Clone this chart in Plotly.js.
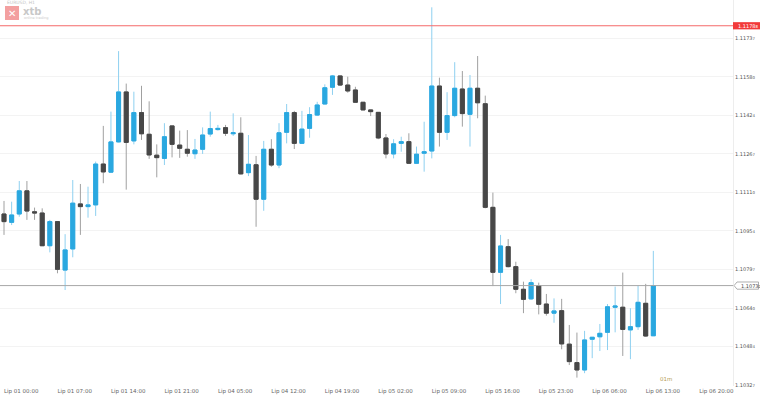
<!DOCTYPE html>
<html>
<head>
<meta charset="utf-8">
<script src="https://cdn.plot.ly/plotly-3.0.1.min.js"></script>
<style>html,body{margin:0;padding:0;background:#fff;}#chart{width:760px;height:395px;}</style>
</head>
<body>
<div id="chart"></div>
<script>
// ---- data (EURUSD hourly candles) ----
const openP  = [1.11023,1.10989,1.11023,1.11117,1.11032,1.11027,1.10894,1.10992,1.10795,1.10881,1.11064,1.11053,1.11060,1.11226,1.11193,1.11316,1.11519,1.11320,1.11435,1.11347,1.11262,1.11249,1.11381,1.11303,1.11286,1.11268,1.11286,1.11348,1.11366,1.11374,1.11349,1.11351,1.11191,1.11223,1.11083,1.11286,1.11222,1.11355,1.11435,1.11310,1.11371,1.11425,1.11470,1.11538,1.11584,1.11547,1.11527,1.11477,1.11446,1.11436,1.11332,1.11267,1.11310,1.11317,1.11229,1.11270,1.11279,1.11543,1.11355,1.11423,1.11531,1.11428,1.11534,1.11471,1.11050,1.10786,1.10890,1.10809,1.10717,1.10678,1.10732,1.10657,1.10620,1.10630,1.10494,1.10419,1.10389,1.10514,1.10524,1.10542,1.10644,1.10644,1.10552,1.10565,1.10660,1.10528];
const highP  = [1.11076,1.11073,1.11157,1.11157,1.11049,1.11046,1.10999,1.10993,1.10941,1.11161,1.11145,1.11134,1.11236,1.11381,1.11439,1.11685,1.11553,1.11520,1.11544,1.11481,1.11306,1.11392,1.11382,1.11362,1.11364,1.11328,1.11375,1.11439,1.11385,1.11385,1.11432,1.11416,1.11344,1.11259,1.11320,1.11327,1.11392,1.11470,1.11442,1.11442,1.11457,1.11479,1.11550,1.11588,1.11586,1.11581,1.11540,1.11478,1.11447,1.11437,1.11348,1.11327,1.11337,1.11351,1.11297,1.11398,1.11863,1.11577,1.11518,1.11640,1.11604,1.11588,1.11665,1.11504,1.11110,1.10938,1.10921,1.10829,1.10748,1.10758,1.10744,1.10698,1.10680,1.10678,1.10572,1.10541,1.10548,1.10523,1.10576,1.10657,1.10728,1.10785,1.10640,1.10732,1.10739,1.10873];
const lowP   = [1.10938,1.10978,1.11012,1.10999,1.10999,1.10893,1.10867,1.10782,1.10714,1.10847,1.10938,1.11008,1.11015,1.11148,1.11191,1.11314,1.11122,1.11306,1.11324,1.11247,1.11172,1.11222,1.11253,1.11251,1.11256,1.11247,1.11267,1.11337,1.11362,1.11340,1.11340,1.11184,1.11177,1.10971,1.11036,1.11215,1.11209,1.11310,1.11287,1.11308,1.11333,1.11421,1.11469,1.11507,1.11543,1.11516,1.11476,1.11445,1.11421,1.11327,1.11249,1.11249,1.11276,1.11228,1.11226,1.11195,1.11249,1.11297,1.11324,1.11416,1.11378,1.11297,1.11412,1.11046,1.10730,1.10657,1.10806,1.10701,1.10620,1.10674,1.10615,1.10610,1.10581,1.10473,1.10409,1.10358,1.10376,1.10437,1.10466,1.10470,1.10542,1.10446,1.10433,1.10552,1.10524,1.10527];
const closeP = [1.10992,1.11019,1.11117,1.11035,1.11027,1.10894,1.10992,1.10798,1.10877,1.11067,1.11053,1.11060,1.11226,1.11194,1.11316,1.11519,1.11314,1.11435,1.11349,1.11263,1.11252,1.11337,1.11306,1.11290,1.11270,1.11283,1.11344,1.11370,1.11371,1.11351,1.11353,1.11186,1.11225,1.11083,1.11286,1.11222,1.11353,1.11435,1.11310,1.11368,1.11427,1.11466,1.11536,1.11584,1.11547,1.11523,1.11477,1.11446,1.11439,1.11332,1.11267,1.11308,1.11317,1.11229,1.11266,1.11276,1.11543,1.11355,1.11423,1.11534,1.11431,1.11534,1.11475,1.11050,1.10786,1.10893,1.10809,1.10717,1.10676,1.10744,1.10656,1.10620,1.10629,1.10495,1.10423,1.10389,1.10511,1.10522,1.10538,1.10646,1.10649,1.10554,1.10565,1.10664,1.10527,1.10732];

const timeTickLabels = ['Lip 01 00:00','Lip 01 07:00','Lip 01 14:00','Lip 01 21:00','Lip 04 05:00','Lip 04 12:00','Lip 04 19:00','Lip 05 02:00','Lip 05 09:00','Lip 05 16:00','Lip 05 23:00','Lip 06 06:00','Lip 06 13:00','Lip 06 20:00'];
const barsPerTimeTick = 7;
const priceTicks = [1.11737,1.11580,1.11424,1.11267,1.11110,1.10954,1.10797,1.10640,1.10484,1.10327];
const alertLevel = 1.11788;
const lastPrice = 1.10732;
const timeframeLabel = '01m';
const symbolLabel = 'EURUSD, H1';

// ---- build ----
const xIdx = openP.map((_, i) => i);
const yRange = [1.103239, 1.118927];
const plotH = 386;
const perPx = (yRange[1] - yRange[0]) / plotH;

function fmtPrice(v) {
  const s = v.toFixed(5);
  return s.slice(0, 6) + '<span style="font-size:3.9px">' + s.slice(6) + '</span>';
}

const BLUE = '#2aa8e0', BLUE_W = '#8ed0f0', DARK = '#474747', DARK_W = '#a0a0a0';
const FONT = 'DejaVu Sans';

const wicks = {
  type: 'candlestick', x: xIdx, open: openP, high: highP, low: lowP, close: closeP,
  increasing: {line: {color: BLUE_W, width: 1}, fillcolor: BLUE},
  decreasing: {line: {color: DARK_W, width: 1}, fillcolor: DARK},
  whiskerwidth: 0, hoverinfo: 'skip', showlegend: false
};
const bodies = {
  type: 'candlestick', x: xIdx, open: openP, close: closeP,
  high: openP.map((o, i) => Math.max(o, closeP[i])),
  low: openP.map((o, i) => Math.min(o, closeP[i])),
  increasing: {line: {color: BLUE, width: 1}, fillcolor: BLUE},
  decreasing: {line: {color: DARK, width: 1}, fillcolor: DARK},
  whiskerwidth: 0, hoverinfo: 'skip', showlegend: false
};

const tagH = 3.6 * perPx;
const xR = 760 / 733;
const shapes = [
  {type: 'line', xref: 'paper', yref: 'y', x0: 0, x1: 1, y0: alertLevel, y1: alertLevel, line: {color: '#f56a6a', width: 1}},
  {type: 'rect', xref: 'paper', yref: 'y', x0: 1, x1: xR, y0: alertLevel - tagH, y1: alertLevel + tagH, fillcolor: '#f23a3a', line: {width: 0}},
  {type: 'line', xref: 'paper', yref: 'y', x0: 0, x1: 1, y0: lastPrice, y1: lastPrice, line: {color: '#a8a8a8', width: 1}},
  {type: 'path', xref: 'paper', yref: 'y', fillcolor: '#ffffff', line: {color: '#9a9a9a', width: 0.8},
   path: 'M 1.0015 ' + lastPrice + ' L ' + (737/733) + ' ' + (lastPrice + tagH) + ' L ' + (758.5/733) + ' ' + (lastPrice + tagH) +
         ' L ' + (758.5/733) + ' ' + (lastPrice - tagH) + ' L ' + (737/733) + ' ' + (lastPrice - tagH) + ' Z'},
  // logo watermark
  {type: 'rect', xref: 'paper', yref: 'paper', x0: 5/733, x1: 19/733, y0: 1 - 20/386, y1: 1 - 6/386, fillcolor: '#f3a0a0', line: {width: 0}, layer: 'below'}
];

const annotations = [
  {xref: 'paper', yref: 'y', x: 1 + 3/733, y: alertLevel, xanchor: 'left', yanchor: 'middle', showarrow: false,
   text: fmtPrice(alertLevel), font: {family: FONT, size: 5, color: '#ffffff'}},
  {xref: 'paper', yref: 'y', x: 1 + 5.5/733, y: lastPrice, xanchor: 'left', yanchor: 'middle', showarrow: false,
   text: fmtPrice(lastPrice), font: {family: FONT, size: 5, color: '#444'}},
  {xref: 'paper', yref: 'paper', x: 666/733, y: 1 - 379/386, xanchor: 'center', yanchor: 'middle', showarrow: false,
   text: timeframeLabel, font: {family: FONT, size: 5.5, color: '#b59b55'}},
  {xref: 'paper', yref: 'paper', x: 12/733, y: 1 - 13/386, xanchor: 'center', yanchor: 'middle', showarrow: false,
   text: '✕', font: {family: FONT, size: 10, color: '#ffffff'}},
  {xref: 'paper', yref: 'paper', x: 21/733, y: 1 - 11.5/386, xanchor: 'left', yanchor: 'middle', showarrow: false,
   text: '<b>xtb</b>', font: {family: FONT, size: 10, color: '#c8c8c8'}},
  {xref: 'paper', yref: 'paper', x: 22/733, y: 1 - 18.5/386, xanchor: 'left', yanchor: 'middle', showarrow: false,
   text: 'online trading', font: {family: FONT, size: 3.5, color: '#cccccc'}},
  {xref: 'paper', yref: 'paper', x: 5/733, y: 1 - 2.5/386, xanchor: 'left', yanchor: 'middle', showarrow: false,
   text: symbolLabel, font: {family: FONT, size: 4.5, color: '#c4c4c4'}}
];

const layout = {
  width: 760, height: 395,
  margin: {l: 0, r: 27, t: 0, b: 9, pad: 0},
  paper_bgcolor: '#ffffff', plot_bgcolor: '#ffffff',
  showlegend: false, dragmode: false, boxgap: 0.25,
  xaxis: {
    type: 'linear', range: [-0.524, 95.43], rangeslider: {visible: false},
    showgrid: false, zeroline: false, showline: false,
    tickmode: 'array', tickvals: timeTickLabels.map((_, i) => i * barsPerTimeTick), ticktext: timeTickLabels,
    ticks: '', ticklabelposition: 'outside right',
    tickfont: {family: FONT, size: 5.5, color: '#666666'}
  },
  yaxis: {
    side: 'right', range: yRange, zeroline: false,
    showgrid: true, gridcolor: '#f3f3f3', gridwidth: 1,
    showline: true, linecolor: '#ededed', linewidth: 1,
    tickmode: 'array', tickvals: priceTicks, ticktext: priceTicks.map(fmtPrice),
    ticks: '', 
    tickfont: {family: FONT, size: 5, color: '#555555'}
  },
  shapes: shapes,
  annotations: annotations
};

Plotly.newPlot('chart', [wicks, bodies], layout, {displayModeBar: false, staticPlot: true});
</script>
</body>
</html>
